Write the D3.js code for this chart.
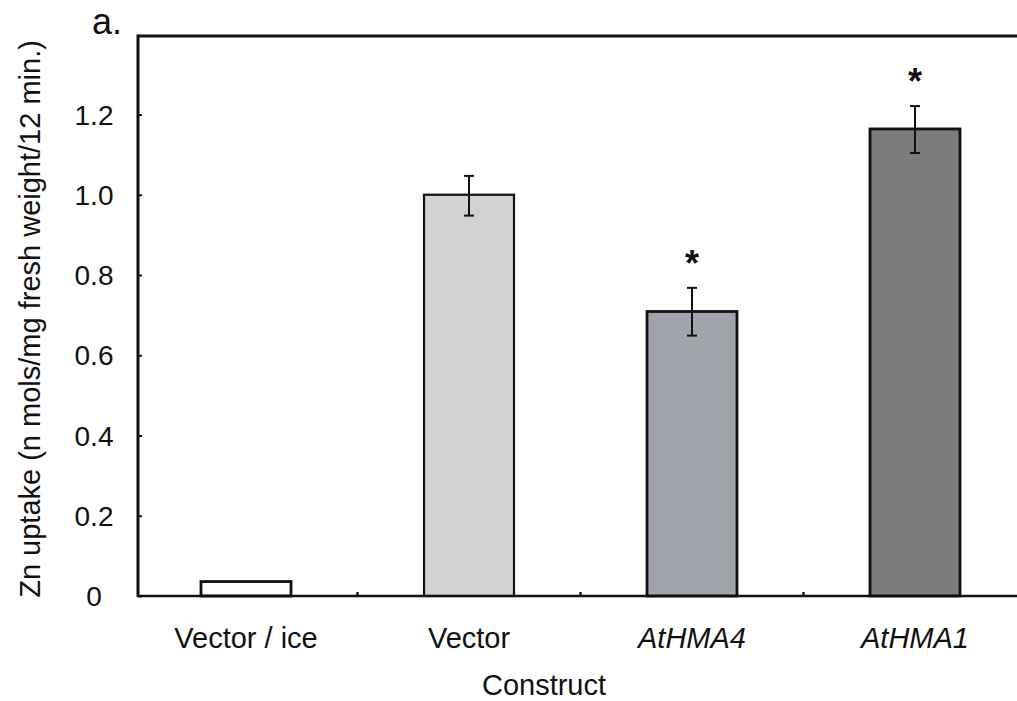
<!DOCTYPE html>
<html>
<head>
<meta charset="utf-8">
<script src="https://cdn.jsdelivr.net/npm/d3@7"></script>
<style>
  html, body { margin: 0; padding: 0; background: #fff; }
  svg { display: block; font-family: "Liberation Sans", Arial, sans-serif; }
</style>
</head>
<body>
<svg id="chart" width="1017" height="701"></svg>
<script>
// Zn uptake per construct, mean ± error
const constructs = ["Vector / ice", "Vector", "AtHMA4", "AtHMA1"];
const italicLabels = ["AtHMA4", "AtHMA1"];
const uptake = [0.036, 1.0, 0.709, 1.164];
const errLow = [null, 0.948, 0.649, 1.104];
const errHigh = [null, 1.047, 0.768, 1.221];
const significant = [false, false, true, true];
const barFills = ["#ffffff", "#d2d2d2", "#a1a4ab", "#7c7c7c"];
const yTicks = [0, 0.2, 0.4, 0.6, 0.8, 1.0, 1.2];
const yTickLabels = ["0", "0.2", "0.4", "0.6", "0.8", "1.0", "1.2"];

const svg = d3.select("#chart");
const plotLeft = 138, plotTop = 36, plotBottom = 596;

const x = d3.scaleBand().domain(constructs).range([134.5, 1026.5]).paddingInner(0).paddingOuter(0);
const y = d3.scaleLinear().domain([0, 1.2]).range([plotBottom, plotBottom - 481.5]);

// frame: top line and left axis
svg.append("line").attr("x1", plotLeft).attr("x2", 1017).attr("y1", plotTop).attr("y2", plotTop)
  .attr("stroke", "#111").attr("stroke-width", 3);
svg.append("line").attr("x1", plotLeft).attr("x2", plotLeft).attr("y1", plotTop - 1.5).attr("y2", plotBottom + 1)
  .attr("stroke", "#111").attr("stroke-width", 3);

// y axis ticks (inward) and labels
const yAxis = d3.axisRight(y).tickValues(yTicks).tickSize(4).tickFormat("");
const yg = svg.append("g").attr("transform", `translate(${plotLeft},0)`).call(yAxis);
yg.select(".domain").remove();
yg.selectAll(".tick line").attr("stroke", "#111").attr("stroke-width", 2);
svg.append("g").selectAll("text").data(yTicks).join("text")
  .attr("x", 94).attr("y", d => y(d) + 10)
  .attr("text-anchor", "middle")
  .attr("font-size", 28)
  .attr("fill", "#111")
  .text((d, i) => yTickLabels[i]);

// bars
const barW = 90;
const bars = svg.append("g");
constructs.forEach((c, i) => {
  const cx = x(c) + x.bandwidth() / 2;
  bars.append("rect")
    .attr("x", cx - barW / 2).attr("width", barW)
    .attr("y", y(uptake[i])).attr("height", y(0) - y(uptake[i]))
    .attr("fill", barFills[i])
    .attr("stroke", "#111").attr("stroke-width", i === 1 ? 2.2 : 2.8);
});

// x axis line with small inward ticks at band boundaries
svg.append("line").attr("x1", plotLeft).attr("x2", 1017).attr("y1", plotBottom).attr("y2", plotBottom)
  .attr("stroke", "#111").attr("stroke-width", 2.6);
svg.append("g").selectAll("line").data(constructs.slice(1)).join("line")
  .attr("x1", d => x(d)).attr("x2", d => x(d))
  .attr("y1", plotBottom).attr("y2", plotBottom - 4)
  .attr("stroke", "#111").attr("stroke-width", 2.4);

// error bars
const cap = 10;
const eb = svg.append("g").attr("stroke", "#111").attr("stroke-width", 2);
constructs.forEach((c, i) => {
  if (errLow[i] == null) return;
  const cx = x(c) + x.bandwidth() / 2;
  eb.append("line").attr("x1", cx).attr("x2", cx).attr("y1", y(errLow[i])).attr("y2", y(errHigh[i]));
  eb.append("line").attr("x1", cx - cap / 2).attr("x2", cx + cap / 2).attr("y1", y(errLow[i])).attr("y2", y(errLow[i]));
  eb.append("line").attr("x1", cx - cap / 2).attr("x2", cx + cap / 2).attr("y1", y(errHigh[i])).attr("y2", y(errHigh[i]));
});

// significance marks
constructs.forEach((c, i) => {
  if (!significant[i]) return;
  const cx = x(c) + x.bandwidth() / 2;
  svg.append("text")
    .attr("x", cx).attr("y", y(errHigh[i]) - 12)
    .attr("text-anchor", "middle")
    .attr("font-size", 36).attr("font-weight", "bold")
    .attr("fill", "#111")
    .text("*");
});

// category labels
svg.append("g").selectAll("text").data(constructs).join("text")
  .attr("x", d => x(d) + x.bandwidth() / 2)
  .attr("y", 648)
  .attr("text-anchor", "middle")
  .attr("font-size", 29)
  .attr("font-style", d => italicLabels.includes(d) ? "italic" : "normal")
  .attr("fill", "#111")
  .text(d => d);

// axis titles
svg.append("text")
  .attr("x", 544).attr("y", 695)
  .attr("text-anchor", "middle")
  .attr("font-size", 29).attr("fill", "#111")
  .text("Construct");

svg.append("text")
  .attr("transform", "translate(40,319) rotate(-90)")
  .attr("text-anchor", "middle")
  .attr("font-size", 29).attr("fill", "#111")
  .text("Zn uptake (n mols/mg fresh weight/12 min.)");

// panel letter
svg.append("text")
  .attr("x", 92).attr("y", 34)
  .attr("font-size", 36).attr("fill", "#111")
  .text("a.");
</script>
</body>
</html>
